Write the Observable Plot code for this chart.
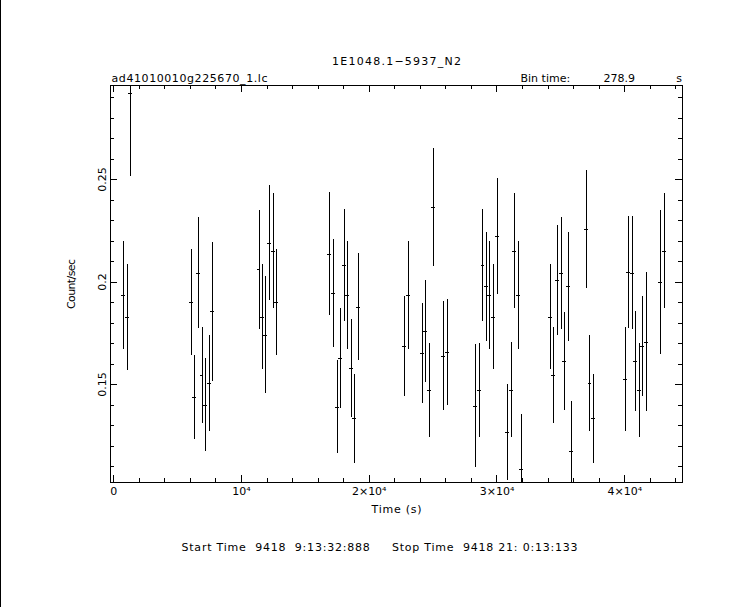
<!DOCTYPE html>
<html><head><meta charset="utf-8">
<script src="https://cdn.jsdelivr.net/npm/d3@7"></script>
<script src="https://cdn.jsdelivr.net/npm/@observablehq/plot@0.6"></script>
<style>
html,body{margin:0;padding:0;background:#fff;}
#chart{position:relative;width:743px;height:607px;}
#edge{position:absolute;left:0;top:0;width:1px;height:607px;background:#000;}
svg text{white-space:pre;}
</style>
</head><body><div id="chart"><div id="edge"></div></div>
<script>
// Light curve: time (s), rate (count/s), 1-sigma error
const time = [782, 1095, 1330, 6103, 6338, 6651, 6917, 7199, 7512, 7746,
  11377, 11659, 11894, 12207, 12520, 12754,
  16901, 17214, 17527, 17762, 18075, 18310, 18623, 18858, 19171,
  22770, 23083, 24178, 24413, 24726, 25039, 25822, 26135,
  28326, 28639, 28905, 29186, 29421, 29734, 30047, 30830, 31143, 31377, 31690, 31925,
  34194, 34429, 34742, 35031, 35290, 35579, 35837, 36988, 37268, 37558,
  40063, 40297, 40610, 40845, 41158, 41393, 41706, 42801, 43114];
const rate = [0.1935, 0.1828, 0.292, 0.1901, 0.1439, 0.2044, 0.1545, 0.140, 0.1506, 0.1854,
  0.2059, 0.1829, 0.1741, 0.219, 0.2151, 0.1901,
  0.2135, 0.1945, 0.1389, 0.1628, 0.2081, 0.1935, 0.1579, 0.1332, 0.1878,
  0.1686, 0.1935, 0.1652, 0.176, 0.1472, 0.2364, 0.1638, 0.1657,
  0.1394, 0.1472, 0.2081, 0.1976, 0.1935, 0.1828, 0.2223, 0.1266, 0.1473, 0.215, 0.1935, 0.1084,
  0.1829, 0.1545, 0.2008, 0.2042, 0.1613, 0.1976, 0.1174, 0.2257, 0.1506, 0.1332,
  0.1525, 0.2047, 0.2044, 0.1613, 0.1472, 0.1686, 0.1706, 0.1998, 0.2151];
const err = [0.0263, 0.0258, 0.0406, 0.026, 0.0205, 0.0273, 0.0235, 0.0225, 0.0233, 0.034,
  0.029, 0.0257, 0.0287, 0.028, 0.028, 0.026,
  0.030, 0.0265, 0.0226, 0.0243, 0.0275, 0.0265, 0.024, 0.0218, 0.026,
  0.0245, 0.0265, 0.0243, 0.025, 0.023, 0.0289, 0.0265, 0.026,
  0.030, 0.023, 0.0275, 0.0267, 0.0265, 0.0257, 0.0284, 0.0234, 0.023, 0.028, 0.0265, 0.027,
  0.0258, 0.0235, 0.027, 0.0273, 0.024, 0.0267, 0.0245, 0.0288, 0.0233, 0.0217,
  0.0255, 0.0274, 0.0274, 0.0243, 0.023, 0.0245, 0.034, 0.035, 0.028];
const binTime = 278.9;

const xMajor = [0, 10000, 20000, 30000, 40000];
const xMajorLabels = ["0", "10\u2074", "2\u00d710\u2074", "3\u00d710\u2074", "4\u00d710\u2074"];
const xMinor = d3.range(2000, 44001, 2000).filter(v => v % 10000 !== 0);
const yMajor = [0.15, 0.2, 0.25];
const yMajorLabels = ["0.15", "0.2", "0.25"];
const yMinor = [0.11, 0.12, 0.13, 0.14, 0.16, 0.17, 0.18, 0.19, 0.21, 0.22, 0.23, 0.24, 0.26, 0.27, 0.28, 0.29];

const titleText = "1E1048.1\u22125937_N2";
const fileText = "ad41010010g225670_1.lc";
const binLabel = "Bin time:";
const binValue = "278.9";
const binUnit = "s";
const xLabel = "Time (s)";
const yLabel = "Count/sec";
const timesText = "Start Time  9418  9:13:32:888     Stop Time  9418 21: 0:13:133";

const data = time.map((t, i) => ({t, r: rate[i], e: err[i]}));

const W = 743, H = 607, mL = 110, mR = 61, mT = 85, mB = 125;
const fw = W - mL - mR, fh = H - mT - mB;
const crisp = {stroke: "black", strokeWidth: 1, shapeRendering: "crispEdges"};

const plot = Plot.plot({
  width: W, height: H,
  marginLeft: mL, marginRight: mR, marginTop: mT, marginBottom: mB,
  x: {domain: [-250, 44520], axis: null},
  y: {domain: [0.1022, 0.2959], axis: null},
  style: {fontFamily: "DejaVu Sans", fontSize: "11px", background: "white", color: "black", overflow: "visible"},
  marks: [
    Plot.frame(crisp),
    // error bars
    Plot.ruleX(data, {x: "t", y1: d => d.r - d.e, y2: d => d.r + d.e, ...crisp, clip: true}),
    Plot.ruleY(data, {y: "r", x1: d => d.t - binTime / 2, x2: d => d.t + binTime / 2, ...crisp, clip: true}),
    // ticks, bottom & top
    Plot.tickX(xMajor, {x: d => d, insetTop: fh - 7, ...crisp}),
    Plot.tickX(xMajor, {x: d => d, insetBottom: fh - 7, ...crisp}),
    Plot.tickX(xMinor, {x: d => d, insetTop: fh - 4, ...crisp}),
    Plot.tickX(xMinor, {x: d => d, insetBottom: fh - 4, ...crisp}),
    // ticks, left & right
    Plot.tickY(yMajor, {y: d => d, insetRight: fw - 7, ...crisp}),
    Plot.tickY(yMajor, {y: d => d, insetLeft: fw - 7, ...crisp}),
    Plot.tickY(yMinor, {y: d => d, insetRight: fw - 4, ...crisp}),
    Plot.tickY(yMinor, {y: d => d, insetLeft: fw - 4, ...crisp}),
    // tick labels
    Plot.text(xMajor, {x: d => d, text: (d, i) => xMajorLabels[i], frameAnchor: "bottom", textAnchor: "middle", dy: 12, fill: "black"}),
    Plot.text(yMajor, {y: d => d, text: (d, i) => yMajorLabels[i], frameAnchor: "left", textAnchor: "middle", rotate: -90, dx: -8.5, fill: "black"}),
    // axis labels
    Plot.text([xLabel], {frameAnchor: "bottom", textAnchor: "middle", dy: 30, fill: "black"}),
    Plot.text([yLabel], {frameAnchor: "left", textAnchor: "middle", rotate: -90, dx: -39.5, fill: "black"}),
    // titles
    Plot.text([titleText], {frameAnchor: "top", textAnchor: "middle", dy: -28, fill: "black"}),
    Plot.text([fileText], {frameAnchor: "top-left", textAnchor: "start", dx: 1, dy: -11, fill: "black"}),
    Plot.text([binLabel], {frameAnchor: "top-right", textAnchor: "start", dx: -162, dy: -11, fill: "black"}),
    Plot.text([binValue], {frameAnchor: "top-right", textAnchor: "start", dx: -79, dy: -11, fill: "black"}),
    Plot.text([binUnit], {frameAnchor: "top-right", textAnchor: "end", dx: -0.5, dy: -11, fill: "black"}),
    Plot.text([timesText], {frameAnchor: "bottom-left", textAnchor: "start", dx: 71, dy: 68, fill: "black"})
  ]
});
// stretch the wide plotter-style strings to the reference widths
const fitWidths = {[titleText]: 129, [fileText]: 156, [timesText]: 396, [xLabel]: 50, [yLabel]: 50};
plot.querySelectorAll("text").forEach(t => {
  const w = fitWidths[t.textContent];
  if (w) { t.setAttribute("textLength", w); t.setAttribute("lengthAdjust", "spacing"); }
});
document.getElementById("chart").appendChild(plot);
</script>
</body></html>
